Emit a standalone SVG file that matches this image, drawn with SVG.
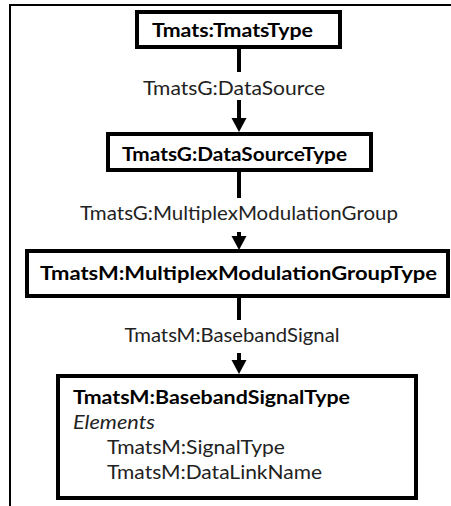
<svg xmlns="http://www.w3.org/2000/svg" width="451" height="506" viewBox="0 0 451 506">
<defs>
<style>
.box{fill:#fff;stroke:#000;stroke-width:4}
.b{font-family:Lato,"Liberation Sans",sans-serif;font-weight:bold;font-size:19px;fill:#000}
.r{font-family:Lato,"Liberation Sans",sans-serif;font-size:19px;fill:#222}
.i{font-style:italic}
.conn{stroke:#000;stroke-width:4;fill:none}
.frame{stroke:#000;stroke-width:2;fill:none}
</style>
<marker id="arr" markerUnits="userSpaceOnUse" markerWidth="16" markerHeight="16" viewBox="0 0 16 16" refX="6" refY="7.5" orient="auto">
<path d="M0,0 L14,7.5 L0,15 z" fill="#000"/>
</marker>
</defs>
<rect width="451" height="506" fill="#fff"/>
<path class="frame" d="M10,506 V5 H451"/>
<g id="connectors">
<path class="conn" d="M239,49 V72 M239,100 V124" marker-end="url(#arr)"/>
<text class="r" x="234" y="95" text-anchor="middle" textLength="182" lengthAdjust="spacingAndGlyphs">TmatsG:DataSource</text>
<path class="conn" d="M239,172 V198 M239,232 V242" marker-end="url(#arr)"/>
<text class="r" x="239" y="220" text-anchor="middle" textLength="318" lengthAdjust="spacingAndGlyphs">TmatsG:MultiplexModulationGroup</text>
<path class="conn" d="M239,298 V320 M239,353 V366" marker-end="url(#arr)"/>
<text class="r" x="232" y="342" text-anchor="middle" textLength="215" lengthAdjust="spacingAndGlyphs">TmatsM:BasebandSignal</text>
</g>
<g id="n1">
<rect class="box" x="137" y="12" width="203" height="35"/>
<text class="b" x="152" y="37" textLength="161" lengthAdjust="spacingAndGlyphs">Tmats:TmatsType</text>
</g>
<g id="n2">
<rect class="box" x="108" y="134" width="263" height="36"/>
<text class="b" x="122" y="161" textLength="225" lengthAdjust="spacingAndGlyphs">TmatsG:DataSourceType</text>
</g>
<g id="n3">
<rect class="box" x="27" y="251" width="421" height="45"/>
<text class="b" x="40" y="280" textLength="397" lengthAdjust="spacingAndGlyphs">TmatsM:MultiplexModulationGroupType</text>
</g>
<g id="n4">
<rect class="box" x="58" y="376" width="358" height="122"/>
<text class="b" x="73" y="404" textLength="277" lengthAdjust="spacingAndGlyphs">TmatsM:BasebandSignalType</text>
<text class="r i" x="73" y="429" textLength="82" lengthAdjust="spacingAndGlyphs">Elements</text>
<text class="r" x="107" y="454" textLength="178" lengthAdjust="spacingAndGlyphs">TmatsM:SignalType</text>
<text class="r" x="107" y="479" textLength="215" lengthAdjust="spacingAndGlyphs">TmatsM:DataLinkName</text>
</g>
</svg>
